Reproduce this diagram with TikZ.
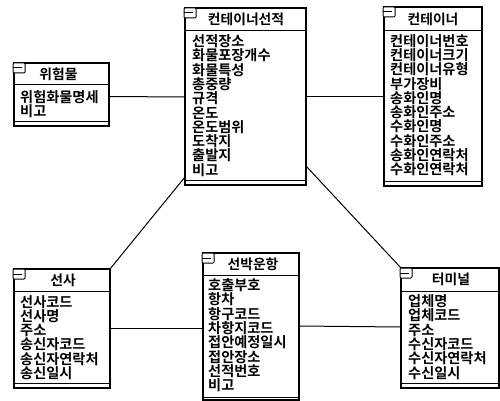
\documentclass[tikz,border=0pt]{standalone}
\usepackage{fontspec}
\setmainfont{Noto Sans CJK KR}[BoldFont={Noto Sans CJK KR Bold}]
\usetikzlibrary{positioning}
\tikzset{
  x=1pt,y=-1pt,
  edge/.style={line width=1pt,black},
  frame/.style={draw=black,line width=1.1pt,fill=white,inner sep=0pt,outer sep=0pt,rectangle},
  titletext/.style={inner sep=0pt,font=\fontsize{13.8}{14}\selectfont,anchor=center},
  bodytext/.style={inner sep=0pt,font=\fontsize{14.2}{14.3}\selectfont,align=left,anchor=north west},
  rule/.style={line width=1pt,black},
  icon/.style={draw=black,line width=1pt,fill=white,rounded corners=1pt}
}
% name, x1, y1, x2, y2, header y, bottom rule y, title offset, title
\newcommand{\umlbox}[9]{%
  \node[frame,minimum width=#4pt-#2pt,minimum height=#5pt-#3pt] (#1) at ({(#2+#4)/2},{(#3+#5)/2}) {};
  \draw[rule] (#2,#6) -- (#4,#6);
  \draw[rule] (#2,#7) -- (#4,#7);
  \draw[icon] (#2-1,#3) rectangle (#2+11,#3+10);
  \draw[rule] (#2-1,#3+5) -- (#2+8,#3+5);
  \node[titletext] (#1t) at ({(#2+#4)/2+#8},{(#3+#6)/2}) {\textbf{#9}};
}
\begin{document}
\begin{tikzpicture}
\useasboundingbox (0,0) rectangle (500,401);
\fill[white] (0,0) rectangle (500,401);
\umlbox{wh}{14}{63}{109}{126}{85}{121}{-3}{위험물}
\umlbox{cs}{185}{8}{306}{185}{31}{180}{0.5}{컨테이너선적}
\umlbox{ct}{384}{7}{482}{186}{31}{181}{0}{컨테이너}
\umlbox{sa}{14}{269}{110}{388}{291}{383}{1}{선사}
\umlbox{sb}{203}{253}{299}{400}{275}{397}{2}{선박운항}
\umlbox{tm}{401}{268}{499}{388}{291}{383}{1}{터미널}
\node[bodytext] (wha) at (20,90) {\textbf{위험화물명세}\\\textbf{비고}};
\node[bodytext] (csa) at (192,34.5) {\textbf{선적장소}\\\textbf{화물포장개수}\\\textbf{화물특성}\\\textbf{총중량}\\\textbf{규격}\\\textbf{온도}\\\textbf{온도범위}\\\textbf{도착지}\\\textbf{출발지}\\\textbf{비고}};
\node[bodytext] (cta) at (390,34) {\textbf{컨테이너번호}\\\textbf{컨테이너크기}\\\textbf{컨테이너유형}\\\textbf{부가장비}\\\textbf{송화인명}\\\textbf{송화인주소}\\\textbf{수화인명}\\\textbf{수화인주소}\\\textbf{송화인연락처}\\\textbf{수화인연락처}};
\node[bodytext] (saa) at (20,295) {\textbf{선사코드}\\\textbf{선사명}\\\textbf{주소}\\\textbf{송신자코드}\\\textbf{송신자연락처}\\\textbf{송신일시}};
\node[bodytext] (sba) at (208,278.5) {\textbf{호출부호}\\\textbf{항차}\\\textbf{항구코드}\\\textbf{차항지코드}\\\textbf{접안예정일시}\\\textbf{접안장소}\\\textbf{선적번호}\\\textbf{비고}};
\node[bodytext] (tma) at (408,294.5) {\textbf{업체명}\\\textbf{업체코드}\\\textbf{주소}\\\textbf{수신자코드}\\\textbf{수신자연락처}\\\textbf{수신일시}};
\draw[edge] ([yshift=-2pt]wh.east) -- (cs.west |- 0,97);
\draw[edge] (cs.east |- 0,97) -- (ct.west |- 0,97);
\draw[edge] ([yshift=8pt]cs.south west) -- (sa.north east);
\draw[edge] ([yshift=19pt]cs.south east) -- (tm.north west);
\draw[edge] (sa.east |- 0,328) -- (sb.west |- 0,328);
\draw[edge] (sb.east |- 0,326) -- (tm.west |- 0,327);
\end{tikzpicture}
\end{document}
